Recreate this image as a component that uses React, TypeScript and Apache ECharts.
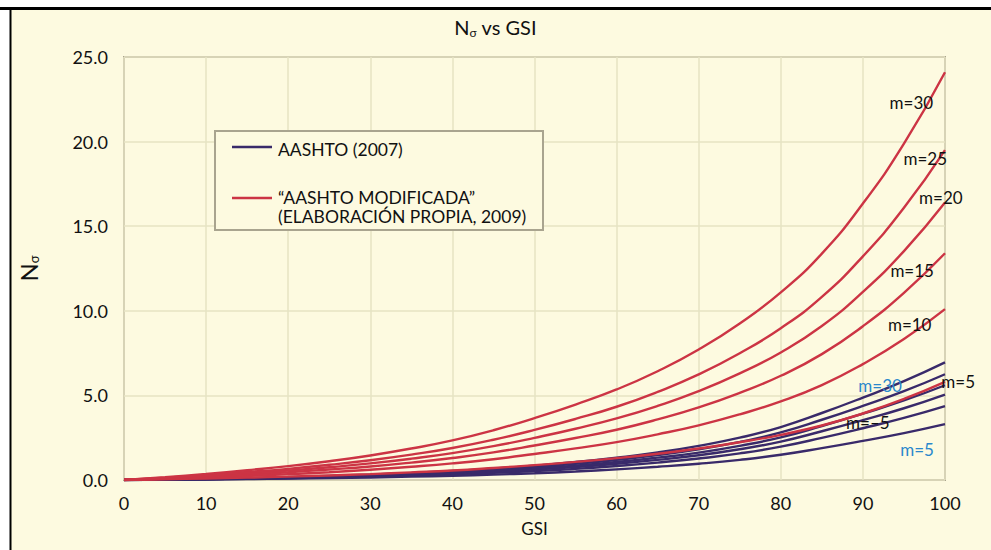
import React, { useEffect, useRef } from "react";
import * as echarts from "echarts";

// GSI sampled every 5 units
const gsi = [0, 5, 10, 15, 20, 25, 30, 35, 40, 45, 50, 55, 60, 65, 70, 75, 80, 85, 90, 95, 100];

// "AASHTO MODIFICADA" (own elaboration, 2009)
const modM30 = [0, 0.17, 0.36, 0.58, 0.82, 1.11, 1.45, 1.86, 2.34, 2.94, 3.66, 4.46, 5.35, 6.43, 7.71, 9.25, 11.09, 13.38, 16.34, 19.88, 24.1];
const modM25 = [0, 0.14, 0.29, 0.47, 0.66, 0.9, 1.17, 1.5, 1.89, 2.38, 2.96, 3.61, 4.33, 5.21, 6.24, 7.49, 8.97, 10.82, 13.22, 16.09, 19.5];
const modM20 = [0, 0.11, 0.25, 0.39, 0.56, 0.75, 0.98, 1.26, 1.59, 2.0, 2.49, 3.03, 3.64, 4.38, 5.25, 6.3, 7.54, 9.1, 11.12, 13.53, 16.4];
const modM15 = [0, 0.09, 0.2, 0.32, 0.46, 0.62, 0.8, 1.03, 1.3, 1.63, 2.04, 2.48, 2.97, 3.58, 4.29, 5.15, 6.16, 7.44, 9.09, 11.06, 13.4];
const modM10 = [0, 0.07, 0.15, 0.24, 0.34, 0.46, 0.61, 0.78, 0.98, 1.23, 1.54, 1.87, 2.24, 2.7, 3.23, 3.88, 4.65, 5.61, 6.85, 8.33, 10.1];
const modM5 = [0, 0.04, 0.09, 0.14, 0.2, 0.27, 0.35, 0.45, 0.56, 0.71, 0.88, 1.07, 1.29, 1.55, 1.86, 2.23, 2.67, 3.22, 3.93, 4.79, 5.8];

// AASHTO (2007)
const aashtoM30 = [0, 0.03, 0.06, 0.11, 0.17, 0.24, 0.32, 0.42, 0.54, 0.67, 0.85, 1.06, 1.32, 1.63, 2.02, 2.5, 3.13, 3.96, 4.87, 5.84, 6.95];
const aashtoM25 = [0, 0.03, 0.06, 0.1, 0.15, 0.21, 0.29, 0.38, 0.48, 0.61, 0.76, 0.95, 1.19, 1.47, 1.81, 2.25, 2.81, 3.56, 4.38, 5.25, 6.25];
const aashtoM20 = [0, 0.02, 0.05, 0.09, 0.13, 0.19, 0.26, 0.34, 0.43, 0.54, 0.68, 0.85, 1.06, 1.32, 1.62, 2.02, 2.52, 3.19, 3.92, 4.7, 5.6];
const aashtoM15 = [0, 0.02, 0.05, 0.08, 0.12, 0.17, 0.23, 0.3, 0.39, 0.49, 0.62, 0.77, 0.96, 1.19, 1.46, 1.82, 2.27, 2.88, 3.54, 4.24, 5.05];
const aashtoM10 = [0, 0.02, 0.04, 0.07, 0.1, 0.15, 0.2, 0.26, 0.34, 0.42, 0.53, 0.66, 0.83, 1.03, 1.27, 1.57, 1.97, 2.49, 3.06, 3.67, 4.37];
const aashtoM5 = [0, 0.01, 0.03, 0.05, 0.08, 0.11, 0.15, 0.2, 0.25, 0.32, 0.4, 0.5, 0.63, 0.78, 0.96, 1.19, 1.49, 1.88, 2.31, 2.77, 3.3];

// Curve annotations: [text, GSI, value, colour key]
const curveLabels: [string, number, number, string][] = [
  ["m=30", 95.9, 22.3, "black"],
  ["m=25", 97.6, 19.0, "black"],
  ["m=20", 99.5, 16.7, "black"],
  ["m=15", 96.0, 12.4, "black"],
  ["m=10", 95.7, 9.2, "black"],
  ["m=5", 101.6, 5.8, "black"],
  ["m=30", 92.1, 5.56, "blue"],
  ["m=–5", 90.6, 3.37, "black"],
  ["m=5", 96.6, 1.83, "blue"],
];

const legendTexts = ["AASHTO (2007)", "“AASHTO MODIFICADA”", "(ELABORACIÓN PROPIA, 2009)"];

const FONT = "Lato, 'DejaVu Sans', sans-serif";
const CREAM = "#fdfae0";
const RED = "#cc3444";
const NAVY = "#392a6a";
const LABEL_BLUE = "#2a88cc";

const pairs = (ys: number[]) => gsi.map((x, i) => [x, ys[i]]);

export default function App() {
  const ref = useRef<HTMLDivElement>(null);

  useEffect(() => {
    document.body.style.margin = "0";
    if (!ref.current) return;
    const chart = echarts.init(ref.current, undefined, { renderer: "svg" });

    const aashto = [aashtoM5, aashtoM10, aashtoM15, aashtoM20, aashtoM25, aashtoM30];
    const modified = [modM5, modM10, modM15, modM20, modM25, modM30];

    const lineSeries: any[] = [];
    aashto.forEach((ys, i) =>
      lineSeries.push({
        type: "line",
        name: "AASHTO (2007) " + i,
        data: pairs(ys),
        smooth: true,
        showSymbol: false,
        lineStyle: { color: NAVY, width: 2.4 },
        z: 2,
      })
    );
    modified.forEach((ys, i) =>
      lineSeries.push({
        type: "line",
        name: "AASHTO MODIFICADA " + i,
        data: pairs(ys),
        smooth: true,
        showSymbol: false,
        lineStyle: { color: RED, width: 2.4 },
        z: 3,
      })
    );

    const frameAndLegend: any[] = [
      // page frame
      { type: "rect", shape: { x: 0, y: 0, width: 991, height: 7 }, style: { fill: "#ffffff" }, z: 10 },
      { type: "rect", shape: { x: 0, y: 0, width: 10, height: 550 }, style: { fill: "#ffffff" }, z: 10 },
      { type: "line", shape: { x1: 0, y1: 8.5, x2: 991, y2: 8.5 }, style: { stroke: "#000", lineWidth: 3 }, z: 11 },
      { type: "line", shape: { x1: 10.5, y1: 8, x2: 10.5, y2: 550 }, style: { stroke: "#000", lineWidth: 2 }, z: 11 },
      // legend box
      {
        type: "rect",
        shape: { x: 215, y: 131, width: 328, height: 99 },
        style: { fill: CREAM, stroke: "#a9a48f", lineWidth: 2 },
        z: 20,
      },
      { type: "line", shape: { x1: 232, y1: 147, x2: 272, y2: 147 }, style: { stroke: NAVY, lineWidth: 2.5 }, z: 21 },
      { type: "line", shape: { x1: 232, y1: 198, x2: 272, y2: 198 }, style: { stroke: RED, lineWidth: 2.5 }, z: 21 },
      ...[149, 197, 216].map((y, i) => ({
        type: "text",
        x: 278,
        y,
        style: { text: legendTexts[i], fill: "#111", fontSize: 17.5, fontFamily: FONT, verticalAlign: "middle" },
        z: 21,
      })),
    ];

    chart.setOption({
      animation: false,
      backgroundColor: CREAM,
      title: {
        text: "{n|N}{s|σ}{t| vs GSI}",
        left: "center",
        top: 11,
        textStyle: {
          rich: {
            n: { fontSize: 20, fontFamily: FONT, color: "#111", fontWeight: "normal" },
            s: { fontSize: 12, fontFamily: FONT, color: "#111", padding: [10, 0, 0, 0], fontWeight: "normal" },
            t: { fontSize: 20, fontFamily: FONT, color: "#111", fontWeight: "normal" },
          },
        },
      },
      grid: {
        left: 124,
        right: 46,
        top: 57,
        bottom: 70,
        show: true,
        backgroundColor: CREAM,
        borderColor: "#aaa58e",
        borderWidth: 2,
      },
      xAxis: {
        type: "value",
        min: 0,
        max: 100,
        interval: 10,
        name: "GSI",
        nameLocation: "middle",
        nameGap: 40,
        nameTextStyle: { fontSize: 17, fontFamily: FONT, color: "#111" },
        axisLine: { show: false },
        axisTick: { show: false },
        axisLabel: { fontSize: 18, fontFamily: FONT, color: "#111", margin: 14 },
        splitLine: { show: true, lineStyle: { color: "#e6e3c3", width: 1.5 } },
      },
      yAxis: {
        type: "value",
        min: 0,
        max: 25,
        interval: 5,
        name: "{n|N}{s|σ}",
        nameLocation: "middle",
        nameGap: 84,
        nameRotate: 90,
        nameTextStyle: {
          rich: {
            n: { fontSize: 24, fontFamily: FONT, color: "#111" },
            s: { fontSize: 13, fontFamily: FONT, color: "#111", padding: [11, 0, 0, 0] },
          },
        },
        axisLine: { show: false },
        axisTick: { show: false },
        axisLabel: {
          fontSize: 18,
          fontFamily: FONT,
          color: "#111",
          margin: 16,
          formatter: (v: number) => v.toFixed(1),
        },
        splitLine: { show: true, lineStyle: { color: "#e6e3c3", width: 1.5 } },
      },
      series: lineSeries,
      graphic: frameAndLegend,
    });

    // curve annotations placed through the chart's own coordinate system
    const labelGraphics = curveLabels.map(([t, x, y, c]) => {
      const [px, py] = chart.convertToPixel({ gridIndex: 0 }, [x, y]) as number[];
      return {
        type: "text",
        x: px,
        y: py,
        z: 30,
        style: {
          text: t,
          fill: c === "blue" ? LABEL_BLUE : "#111",
          fontSize: 17,
          fontFamily: FONT,
          align: "center",
          verticalAlign: "middle",
        },
      };
    });
    chart.setOption({ graphic: [...frameAndLegend, ...labelGraphics] });

    return () => chart.dispose();
  }, []);

  return <div ref={ref} style={{ width: 991, height: 550, position: "absolute", left: 0, top: 0 }} />;
}
